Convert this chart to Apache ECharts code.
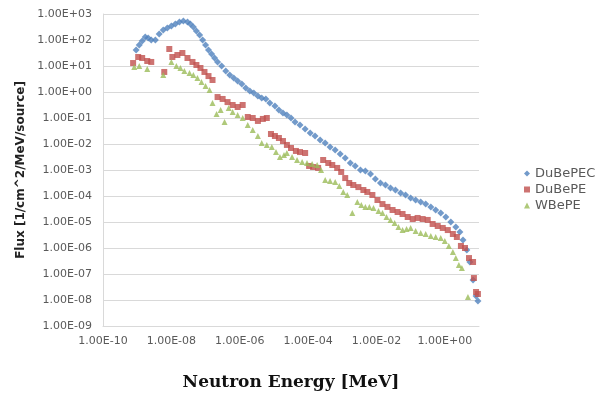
<!DOCTYPE html>
<html>
<head>
<meta charset="utf-8">
<script src="https://cdn.jsdelivr.net/npm/echarts@6/dist/echarts.min.js"></script>
<style>
html,body{margin:0;padding:0;background:#fff;}
#chart{width:606px;height:403px;}
</style>
</head>
<body>
<div id="chart"></div>
<script>
// ---- Data ----
const seriesNames = ['DuBePEC', 'DuBePE', 'WBePE'];

const dubepecEnergy = [9.3e-10,1.15e-9,1.4e-9,1.72e-9,2.1e-9,2.58e-9,3.4e-9,4.4e-9,5.8e-9,7.6e-9,
  1.0e-8,1.31e-8,1.72e-8,2.25e-8,2.96e-8,3.6e-8,4.4e-8,5.4e-8,6.7e-8,8.2e-8,
  1.0e-7,1.22e-7,1.5e-7,1.84e-7,2.25e-7,2.96e-7,3.9e-7,5.1e-7,6.7e-7,8.7e-7,
  1.15e-6,1.5e-6,1.97e-6,2.58e-6,3.4e-6,4.4e-6,5.8e-6,7.6e-6,1.07e-5,1.4e-5,
  1.84e-5,2.4e-5,3.16e-5,4.15e-5,5.8e-5,8.2e-5,1.15e-4,1.6e-4,2.25e-4,3.16e-4,
  4.4e-4,6.2e-4,8.7e-4,1.22e-3,1.72e-3,2.4e-3,3.4e-3,4.75e-3,6.7e-3,9.3e-3,
  1.31e-2,1.84e-2,2.58e-2,3.6e-2,5.1e-2,7.1e-2,0.1,0.14,0.197,0.276,
  0.39,0.54,0.76,1.07,1.5,2.1,2.76,3.4,4.4,5.4,6.7,8.2,9.3];
const dubepecFlux = [41,64,92,130,119,100,100,170,243,290,
  345,412,492,538,492,412,316,222,156,100,
  64,41,29,20.3,14.3,10,6.4,4.5,3.45,2.65,
  2.03,1.43,1.09,0.92,0.70,0.59,0.54,0.38,0.29,0.203,
  0.156,0.13,0.1,0.070,0.054,0.038,0.0265,0.0203,0.0143,0.0109,
  0.0077,0.0059,0.0041,0.0029,0.00186,0.00143,1.0e-3,9.2e-4,7.0e-4,4.5e-4,
  3.16e-4,2.65e-4,2.03e-4,1.7e-4,1.3e-4,1.09e-4,8.4e-5,7.0e-5,5.9e-5,4.9e-5,
  3.8e-5,2.9e-5,2.2e-5,1.56e-5,1.0e-5,6.4e-6,4.1e-6,2.03e-6,8.4e-7,2.9e-7,5.9e-8,1.43e-8,9.2e-9];

const dubepeEnergy = [7.6e-10,1.07e-9,1.4e-9,1.97e-9,2.58e-9,6.2e-9,8.7e-9,1.07e-8,1.5e-8,2.1e-8,
  2.96e-8,4.15e-8,5.4e-8,7.1e-8,9.3e-8,1.22e-7,1.6e-7,2.25e-7,3.16e-7,4.4e-7,
  6.2e-7,8.7e-7,1.22e-6,1.72e-6,2.4e-6,3.4e-6,4.75e-6,6.2e-6,8.2e-6,1.07e-5,
  1.4e-5,1.84e-5,2.4e-5,3.16e-5,4.4e-5,5.8e-5,8.2e-5,1.07e-4,1.4e-4,1.97e-4,
  2.76e-4,3.9e-4,5.1e-4,7.1e-4,9.3e-4,1.22e-3,1.6e-3,2.1e-3,2.96e-3,4.15e-3,
  5.4e-3,7.6e-3,1.07e-2,1.5e-2,2.1e-2,2.96e-2,4.15e-2,5.8e-2,8.2e-2,0.115,
  0.16,0.225,0.316,0.44,0.62,0.87,1.22,1.72,2.25,2.96,3.9,5.1,6.7,7.1,8.2,9.3];
const dubepeFlux = [13,22.2,20.3,15.6,14.3,5.9,45,22.2,26.5,31.6,
  20.3,14.3,10.9,8.4,5.9,4.1,2.9,0.64,0.54,0.41,
  0.316,0.265,0.316,0.109,0.1,0.077,0.092,0.1,0.0243,0.0203,
  0.017,0.013,0.0092,0.0070,0.0054,0.0049,0.0045,0.00143,0.0013,0.0012,
  0.00243,0.00186,0.00156,0.0012,8.4e-4,4.9e-4,3.16e-4,2.65e-4,2.2e-4,1.7e-4,
  1.43e-4,1.09e-4,7.0e-5,4.9e-5,3.8e-5,2.9e-5,2.43e-5,2.03e-5,1.56e-5,1.3e-5,
  1.43e-5,1.3e-5,1.2e-5,8.4e-6,7.0e-6,5.9e-6,4.9e-6,3.45e-6,2.65e-6,1.2e-6,1.0e-6,4.1e-7,2.9e-7,7.0e-8,2.03e-8,1.7e-8];

const wbepeEnergy = [8.2e-10,1.15e-9,1.97e-9,5.8e-9,1.0e-8,1.4e-8,1.84e-8,2.4e-8,3.4e-8,4.4e-8,
  5.8e-8,7.6e-8,1.0e-7,1.31e-7,1.6e-7,2.1e-7,2.76e-7,3.6e-7,4.75e-7,6.2e-7,
  8.7e-7,1.22e-6,1.72e-6,2.4e-6,3.4e-6,4.4e-6,6.2e-6,8.7e-6,1.15e-5,1.5e-5,
  1.97e-5,2.4e-5,3.4e-5,4.75e-5,6.7e-5,9.3e-5,1.31e-4,1.84e-4,2.4e-4,3.16e-4,
  4.4e-4,6.2e-4,8.2e-4,1.07e-3,1.4e-3,1.97e-3,2.76e-3,3.6e-3,4.75e-3,6.2e-3,
  8.2e-3,1.15e-2,1.5e-2,1.97e-2,2.58e-2,3.4e-2,4.4e-2,5.8e-2,7.6e-2,0.1,
  0.14,0.197,0.276,0.39,0.54,0.76,1.0,1.31,1.72,2.1,2.58,3.16,4.75];
const wbepeFlux = [9.2,10,7.7,4.5,14.3,10,8.4,6.4,5.4,4.5,
  3.45,2.43,1.7,1.19,0.38,0.143,0.203,0.070,0.243,0.17,
  0.13,0.1,0.054,0.0345,0.0203,0.0109,0.0092,0.0077,0.0049,0.00316,
  0.0038,0.0045,0.00316,0.00243,0.00203,0.00186,0.0017,0.00156,1.0e-3,4.1e-4,
  3.8e-4,3.45e-4,2.43e-4,1.43e-4,1.09e-4,2.2e-5,5.9e-5,4.5e-5,3.8e-5,3.8e-5,
  3.45e-5,2.65e-5,2.2e-5,1.56e-5,1.2e-5,9.2e-6,6.4e-6,4.9e-6,5.4e-6,5.9e-6,
  4.5e-6,3.8e-6,3.45e-6,2.9e-6,2.65e-6,2.43e-6,1.86e-6,1.2e-6,7.0e-7,4.1e-7,2.2e-7,1.7e-7,1.3e-8];

const xAxisTitle = 'Neutron Energy [MeV]';
const yAxisTitle = 'Flux [1/cm^2/MeV/source]';

// ---- helpers ----
function pairs(xs, ys) { return xs.map((x, i) => [x, ys[i]]); }
function excelExp(v, onlyEven) {
  const e = Math.round(Math.log10(v));
  if (onlyEven && e % 2 !== 0) return '';
  const a = Math.abs(e);
  return '1.00E' + (e < 0 ? '-' : '+') + (a < 10 ? '0' : '') + a;
}

const chart = echarts.init(document.getElementById('chart'), null, { renderer: 'canvas' });
const labelColor = '#595959';
const gridColor = '#d9d9d9';

chart.setOption({
  animation: false,
  backgroundColor: '#ffffff',
  grid: { left: 103, top: 14, right: 127, bottom: 77, containLabel: false },
  legend: {
    orient: 'vertical',
    left: 519,
    top: 162,
    itemWidth: 6,
    itemHeight: 6,
    itemGap: 3,
    textStyle: { fontFamily: 'DejaVu Sans', fontSize: 13, color: labelColor },
    data: [
      { name: seriesNames[0], icon: 'diamond' },
      { name: seriesNames[1], icon: 'rect' },
      { name: seriesNames[2], icon: 'triangle' }
    ]
  },
  xAxis: {
    type: 'log',
    logBase: 10,
    min: 1e-10,
    max: 10,
    interval: 2,
    name: xAxisTitle,
    nameLocation: 'middle',
    nameGap: 48,
    nameTextStyle: { fontFamily: 'DejaVu Serif', fontWeight: 'bold', fontSize: 17, color: '#111' },
    axisLine: { show: true, lineStyle: { color: gridColor } },
    axisTick: { show: false },
    splitLine: { show: false },
    axisLabel: {
      margin: 10,
      fontFamily: 'DejaVu Sans', fontSize: 11, color: labelColor,
      showMaxLabel: false,
      formatter: v => excelExp(v, true)
    }
  },
  yAxis: {
    type: 'log',
    logBase: 10,
    min: 1e-9,
    max: 1e3,
    interval: 1,
    name: yAxisTitle,
    nameLocation: 'middle',
    nameGap: 76,
    nameTextStyle: { fontFamily: 'DejaVu Sans', fontWeight: 'bold', fontSize: 12, color: '#222' },
    axisLine: { show: true, lineStyle: { color: gridColor } },
    axisTick: { show: false },
    splitLine: { show: true, lineStyle: { color: gridColor, width: 1 } },
    axisLabel: {
      margin: 11,
      fontFamily: 'DejaVu Sans', fontSize: 11, color: labelColor,
      formatter: v => excelExp(v, false)
    }
  },
  series: [
    { name: seriesNames[0], type: 'scatter', symbol: 'diamond', symbolSize: 7,
      itemStyle: { color: '#4F81BD' }, data: pairs(dubepecEnergy, dubepecFlux) },
    { name: seriesNames[1], type: 'scatter', symbol: 'rect', symbolSize: 6,
      itemStyle: { color: '#C0504D' }, data: pairs(dubepeEnergy, dubepeFlux) },
    { name: seriesNames[2], type: 'scatter', symbol: 'triangle', symbolSize: 6,
      itemStyle: { color: '#9BBB59' }, data: pairs(wbepeEnergy, wbepeFlux) }
  ]
});
</script>
</body>
</html>
